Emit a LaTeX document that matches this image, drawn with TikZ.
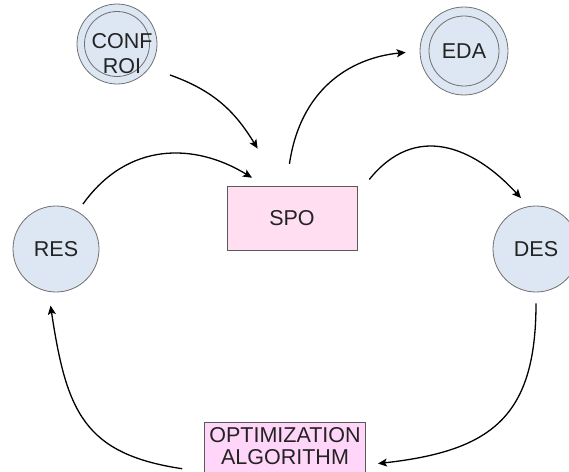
\documentclass[tikz,border=0pt]{standalone}
\usepackage{fontspec}
\setmainfont{Liberation Sans}
\usetikzlibrary{arrows.meta,calc}
\definecolor{ringfill}{RGB}{221,230,243}
\definecolor{ringdraw}{RGB}{112,112,112}
\definecolor{spofill}{RGB}{255,222,242}
\definecolor{optfill}{RGB}{255,214,249}
\definecolor{labelgray}{RGB}{35,35,35}
\begin{document}
\begin{tikzpicture}[x=1pt,y=-1pt,
   every node/.style={font=\fontsize{21.5}{25}\selectfont,text=labelgray},
   ring/.style={circle,draw=ringdraw,fill=ringfill,line width=0.8pt,inner sep=0pt},
   box/.style={rectangle,draw=ringdraw!80!black,line width=0.8pt,inner sep=0pt},
   flow/.style={-{Stealth[length=9pt,width=8pt,inset=2pt]},line width=1.3pt,black}]
   \useasboundingbox (0,0) rectangle (569,471);
   \clip (0,0) rectangle (569,471);
   \node[ring,minimum size=80] (conf) at (117,44) {};
   \node[ring,minimum size=65] (confin) at (conf) {};
   \node[align=center] (conftext) at (122,54) {CONF\\ROI};
   \node[ring,minimum size=88] (eda) at (464,51) {};
   \node[ring,minimum size=70] (edain) at (eda) {EDA};
   \node[ring,minimum size=86] (res) at (56,249) {RES};
   \node[ring,minimum size=86] (des) at (536,249) {DES};
   \node[box,fill=spofill,minimum width=130,minimum height=64] (spo) at (292,218) {SPO};
   \node[box,fill=optfill,minimum width=160,inner sep=5pt,text depth=38pt,align=center,
      anchor=north,font=\fontsize{21.5}{22}\selectfont] (opt) at (285,422) {OPTIMIZATION\\ALGORITHM};
   \draw[flow] ($(conf.center)+(53,31)$) .. controls +(45,16) and +(-22,-36) .. ($(spo.north west)+(31,-37)$);
   \draw[flow,shorten <=22pt,shorten >=14pt] (spo.100) .. controls +(14,-96) and +(-70,7) .. (eda.180);
   \draw[flow,shorten <=9pt,shorten >=15pt] (res.60) .. controls +(50,-70) and +(-70,-43) .. (spo.130);
   \draw[flow,shorten <=19pt,shorten >=11pt] (spo.20) .. controls +(58,-72) and +(-55,-60) .. (des.100);
   \draw[flow,shorten <=11pt,shorten >=12pt] (des.south) .. controls +(0,125) and +(125,-14) .. (opt.east);
   \draw[flow,shorten <=22pt,shorten >=14pt] (opt.185) .. controls +(-120,-18) and +(18,120) .. (res.-100);
\end{tikzpicture}
\end{document}
